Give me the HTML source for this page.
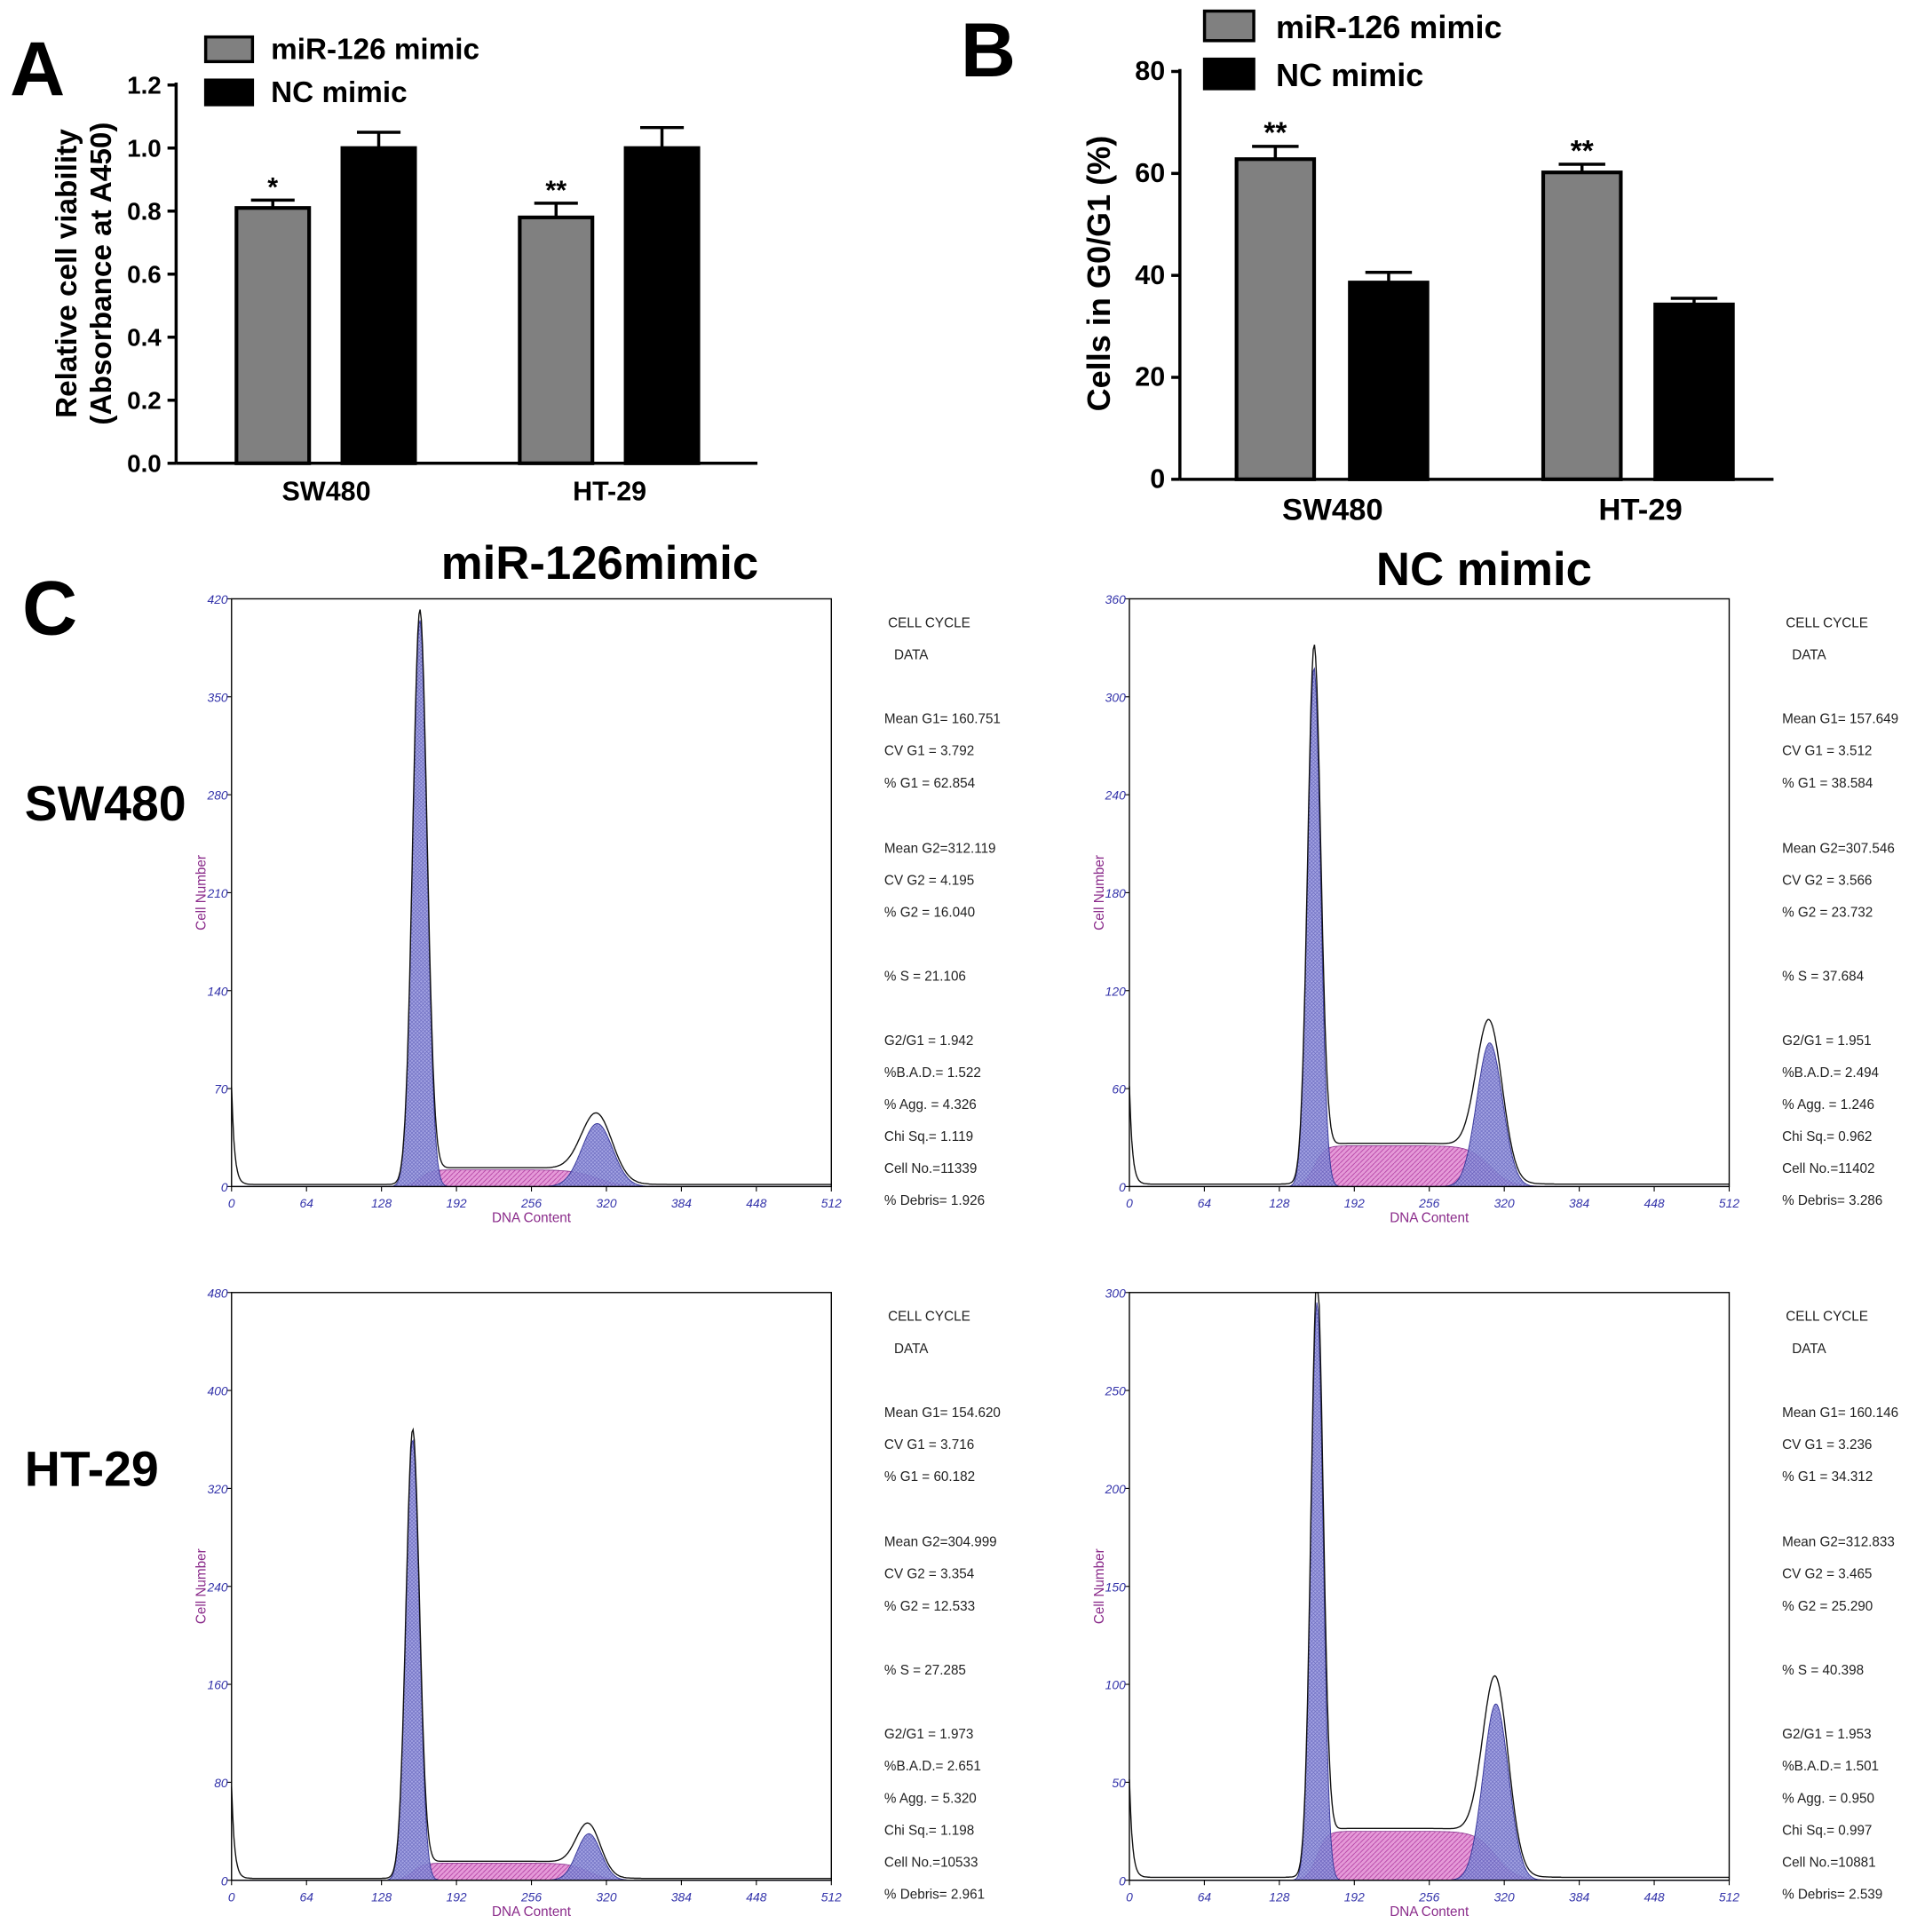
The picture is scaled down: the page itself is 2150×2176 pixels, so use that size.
<!DOCTYPE html>
<html><head><meta charset="utf-8">
<style>
html,body{margin:0;padding:0;background:#fff}
svg{display:block}
.b{font-family:"Liberation Sans",Arial,sans-serif;font-weight:bold}
.s{font-family:"Liberation Sans",Arial,sans-serif;font-size:11px;fill:#222}
.t{font-family:"Liberation Sans",Arial,sans-serif;font-size:10px;fill:#3333aa;font-style:italic}
</style></head>
<body>
<svg id="root" width="2150" height="2176" viewBox="0 0 1550 1568" preserveAspectRatio="none" xmlns="http://www.w3.org/2000/svg">
<defs>
<pattern id="hatchB" width="3" height="3" patternUnits="userSpaceOnUse"><rect width="3" height="3" fill="#9a9ae0"/><path d="M0 0L3 3M3 0L0 3" stroke="#5a5ab8" stroke-width="0.5"/></pattern>
<pattern id="hatchP" width="4" height="4" patternUnits="userSpaceOnUse"><rect width="4" height="4" fill="#e59ad8"/><path d="M0 4L4 0" stroke="#b03aa0" stroke-width="0.6"/></pattern>
</defs>
<text class="b" x="8" y="77" font-size="62">A</text>
<text class="b" x="780" y="62" font-size="62">B</text>
<text class="b" x="18" y="515" font-size="62">C</text>
<text class="b" x="487" y="470" font-size="38" text-anchor="middle">miR-126mimic</text>
<text class="b" x="1205" y="475" font-size="38" text-anchor="middle">NC mimic</text>
<text class="b" x="20" y="666" font-size="40">SW480</text>
<text class="b" x="20" y="1206" font-size="40">HT-29</text>
<g id="g"></g>
</svg>
<script>
const NS="http://www.w3.org/2000/svg";
const root=document.getElementById('g');
function mk(tag,attrs,parent){const e=document.createElementNS(NS,tag);for(const k in attrs)e.setAttribute(k,attrs[k]);(parent||root).appendChild(e);return e;}

// ---- Panel A data ----
const catsA=["SW480","HT-29"];
const mirA=[0.81,0.78];
const mirErrA=[0.025,0.045];
const ncA=[1.0,1.0];
const ncErrA=[0.05,0.065];
const starsA=["*","**"];
const ticksA=[0,0.2,0.4,0.6,0.8,1.0,1.2];
// ---- Panel B data ----
const catsB=["SW480","HT-29"];
const mirB=[62.8,60.2];
const mirErrB=[2.5,1.6];
const ncB=[38.6,34.3];
const ncErrB=[2.0,1.2];
const starsB=["**","**"];
const ticksB=[0,20,40,60,80];

function barChart(o){
  const g=mk('g',{});
  
  
  const y=v=>o.y0-(v-o.vmin)/(o.vmax-o.vmin)*(o.y0-o.y1);
  mk('line',{x1:o.x0,y1:o.y1-2,x2:o.x0,y2:o.y0,stroke:'#000','stroke-width':2.5},g);
  mk('line',{x1:o.x0,y1:o.y0,x2:o.xe,y2:o.y0,stroke:'#000','stroke-width':2.5},g);
  o.ticks.forEach(t=>{
    mk('line',{x1:o.x0-7,y1:y(t),x2:o.x0,y2:y(t),stroke:'#000','stroke-width':2.5},g);
    const tx=mk('text',{x:o.x0-12,y:y(t)+7,'text-anchor':'end','font-size':o.tfs,class:'b'},g);
    
    
    tx.textContent=o.fmt(t);
  });
  o.cats.forEach((c,i)=>{
    const bars=[[o.mir[i],o.mirErr[i],o.gx[i],'#808080'],[o.nc[i],o.ncErr[i],o.bx[i],'#000']];
    bars.forEach((b,j)=>{
      const top=y(b[0]),et=y(b[0]+b[1]),cx=b[2]+o.bw/2;
      mk('line',{x1:cx,y1:top,x2:cx,y2:et,stroke:'#000','stroke-width':2.5},g);
      mk('line',{x1:cx-o.bw*0.3,y1:et,x2:cx+o.bw*0.3,y2:et,stroke:'#000','stroke-width':2.5},g);
      const r=mk('rect',{x:b[2],y:top,width:o.bw,height:o.y0-top,fill:b[3],stroke:'#000','stroke-width':3},g);
      
      
      if(j===0){
        const s=mk('text',{x:cx,y:et-3,'text-anchor':'middle','font-size':o.sfs,class:'b'},g);
        
        
        s.textContent=o.stars[i];
      }
    });
    const xl=mk('text',{x:o.lx[i],y:o.y0+o.lfs+8,'text-anchor':'middle','font-size':o.lfs,class:'b'},g);
    
    
    xl.textContent=c;
  });
  const lg=mk('g',{},g);
  
  
  [['miR-126 mimic','#808080'],['NC mimic','#000']].forEach((l,k)=>{
    const ly=o.ly+k*o.lstep;
    mk('rect',{x:o.lrx,y:ly,width:o.lrw,height:o.lrh,fill:l[1],stroke:'#000','stroke-width':2.5},lg);
    const t=mk('text',{x:o.ltx,y:ly+o.lrh-2,'font-size':o.legfs,class:'b'},lg);
    
    
    t.textContent=l[0];
  });
  o.titles.forEach((tt,k)=>{
    const t=mk('text',{x:0,y:0,'text-anchor':'middle','font-size':o.tifs,class:'b',transform:`translate(${tt[0]},${o.tcy}) rotate(-90)`},g);
    
    
    t.textContent=tt[1];
  });
}
barChart({name:'panel-a-chart',x0:143,xe:615,y0:376,y1:69,vmin:0,vmax:1.2,ticks:ticksA,fmt:t=>t.toFixed(1),tfs:20,
  cats:catsA,mir:mirA,mirErr:mirErrA,nc:ncA,ncErr:ncErrA,stars:starsA,gx:[192,422],bx:[278,508],bw:59,sfs:22,lx:[265,495],lfs:22,
  ly:30,lstep:35,lrx:167,lrw:38,lrh:20,ltx:220,legfs:24,titles:[[62,'Relative cell viability'],[90,'(Absorbance at A450)']],tifs:24,tcy:222});
barChart({name:'panel-b-chart',x0:958,xe:1440,y0:389,y1:58,vmin:0,vmax:80,ticks:ticksB,fmt:t=>String(t),tfs:22,
  cats:catsB,mir:mirB,mirErr:mirErrB,nc:ncB,ncErr:ncErrB,stars:starsB,gx:[1004,1253],bx:[1096,1344],bw:63,sfs:24,lx:[1082,1332],lfs:25,
  ly:9,lstep:39,lrx:978,lrw:40,lrh:24,ltx:1036,legfs:26,titles:[[901,'Cells in G0/G1 (%)']],tifs:26,tcy:222});

// ---- Panel C: flow cytometry histograms ----
const channelTicks=[0,64,128,192,256,320,384,448,512];
// per panel: [G1 mean, G1 cv%, G1 height, G2 mean, G2 cv%, G2 height, S level, debris height]
const fitTL=[160.751,3.792,405,312.119,4.195,45,12,70];
const fitTR=[157.649,3.512,318,307.546,3.566,88,25,60];
const fitBL=[154.620,3.716,360,304.999,3.354,38,14,75];
const fitBR=[160.146,3.236,295,312.833,3.465,90,25,50];
const yMaxes=[420,360,480,300];
const yStepsC=[70,60,80,50];
const statsTL=["CELL  CYCLE","DATA","Mean G1= 160.751","CV G1 = 3.792","% G1 = 62.854","Mean G2=312.119","CV G2 = 4.195","% G2 = 16.040","% S  = 21.106","G2/G1 = 1.942","%B.A.D.= 1.522","% Agg. = 4.326","Chi Sq.= 1.119","Cell No.=11339","% Debris=  1.926"];
const statsTR=["CELL  CYCLE","DATA","Mean G1= 157.649","CV G1 = 3.512","% G1 = 38.584","Mean G2=307.546","CV G2 = 3.566","% G2 = 23.732","% S  = 37.684","G2/G1 = 1.951","%B.A.D.= 2.494","% Agg. = 1.246","Chi Sq.= 0.962","Cell No.=11402","% Debris=  3.286"];
const statsBL=["CELL  CYCLE","DATA","Mean G1= 154.620","CV G1 = 3.716","% G1 = 60.182","Mean G2=304.999","CV G2 = 3.354","% G2 = 12.533","% S  = 27.285","G2/G1 = 1.973","%B.A.D.= 2.651","% Agg. = 5.320","Chi Sq.= 1.198","Cell No.=10533","% Debris=  2.961"];
const statsBR=["CELL  CYCLE","DATA","Mean G1= 160.146","CV G1 = 3.236","% G1 = 34.312","Mean G2=312.833","CV G2 = 3.465","% G2 = 25.290","% S  = 40.398","G2/G1 = 1.953","%B.A.D.= 1.501","% Agg. = 0.950","Chi Sq.= 0.997","Cell No.=10881","% Debris=  2.539"];
const statOffsets=[0,26,78,104,130,183,209,235,287,339,365,391,417,443,469];

function flow(name,bx,by,fit,ymax,ystep,stats,sx){
  const W=487,H=477;
  const g=mk('g',{});
  
  
  const X=c=>bx+c/512*W, Y=v=>by+H-v/ymax*H;
  const gauss=(c,m,cv,h)=>{const s=m*cv/100;return h*Math.exp(-0.5*((c-m)/s)**2);};
  const sig=z=>1/(1+Math.exp(-z));
  const [m1,c1,h1,m2,c2,h2,sl,dh]=fit;
  const sLev=c=>sl*sig((c-m1)/(m1*c1/100*0.8))*sig((m2-c)/(m2*c2/100*0.8));
  const g1=[],g2=[],sp=[],tot=[];
  for(let c=0;c<=512;c+=1){
    const a=gauss(c,m1,c1,h1),b=gauss(c,m2,c2,h2),s=sLev(c),d=dh*Math.exp(-c/2.5)+1.5;
    g1.push([X(c),Y(a)]);g2.push([X(c),Y(b)]);sp.push([X(c),Y(s)]);tot.push([X(c),Y(Math.min(ymax,a+b+s+d))]);
  }
  const poly=(pts)=>`M${X(0)},${Y(0)}L`+pts.map(p=>p[0].toFixed(1)+','+p[1].toFixed(1)).join('L')+`L${X(512)},${Y(0)}Z`;
  const sP=mk('path',{d:poly(sp),fill:'url(#hatchP)',stroke:'#8a3a90','stroke-width':0.6},g);
  
  
  const g1P=mk('path',{d:poly(g1),fill:'url(#hatchB)','fill-opacity':0.9,stroke:'#3a3a9a','stroke-width':0.7},g);
  
  
  const g2P=mk('path',{d:poly(g2),fill:'url(#hatchB)','fill-opacity':0.9,stroke:'#3a3a9a','stroke-width':0.7},g);
  
  
  const ln=mk('path',{d:'M'+tot.map(p=>p[0].toFixed(1)+','+p[1].toFixed(1)).join('L'),fill:'none',stroke:'#111','stroke-width':1},g);
  
  
  mk('rect',{x:bx,y:by,width:W,height:H,fill:'none',stroke:'#000','stroke-width':1},g);
  channelTicks.forEach(c=>{
    mk('line',{x1:X(c),y1:by+H,x2:X(c),y2:by+H+4,stroke:'#000','stroke-width':0.8},g);
    const t=mk('text',{x:X(c),y:by+H+17,'text-anchor':'middle',class:'t'},g);
    
    
    t.textContent=c;
  });
  for(let v=0;v<=ymax;v+=ystep){
    mk('line',{x1:bx-4,y1:Y(v),x2:bx,y2:Y(v),stroke:'#000','stroke-width':0.8},g);
    const t=mk('text',{x:bx-3,y:Y(v)+4,'text-anchor':'end',class:'t'},g);
    
    
    t.textContent=v;
  }
  const xt=mk('text',{x:bx+W/2,y:by+H+29,'text-anchor':'middle','font-size':11,fill:'#8a2a8a','font-family':'Liberation Sans, sans-serif'},g);
  
  
  xt.textContent='DNA Content';
  const yt=mk('text',{x:0,y:0,'text-anchor':'middle','font-size':11,fill:'#8a2a8a','font-family':'Liberation Sans, sans-serif',transform:`translate(${bx-21},${by+H/2}) rotate(-90)`},g);
  
  
  yt.textContent='Cell Number';
  stats.forEach((s,i)=>{
    const t=mk('text',{x:sx+(i<2?(i?8:3):0),y:by+23+statOffsets[i],class:'s'},g);
    
    
    t.textContent=s;
  });
}
flow('sw480-mir126-histogram',188,486,fitTL,yMaxes[0],yStepsC[0],statsTL,718);
flow('sw480-nc-histogram',917,486,fitTR,yMaxes[1],yStepsC[1],statsTR,1447);
flow('ht29-mir126-histogram',188,1049,fitBL,yMaxes[2],yStepsC[2],statsBL,718);
flow('ht29-nc-histogram',917,1049,fitBR,yMaxes[3],yStepsC[3],statsBR,1447);
</script>
</body></html>
